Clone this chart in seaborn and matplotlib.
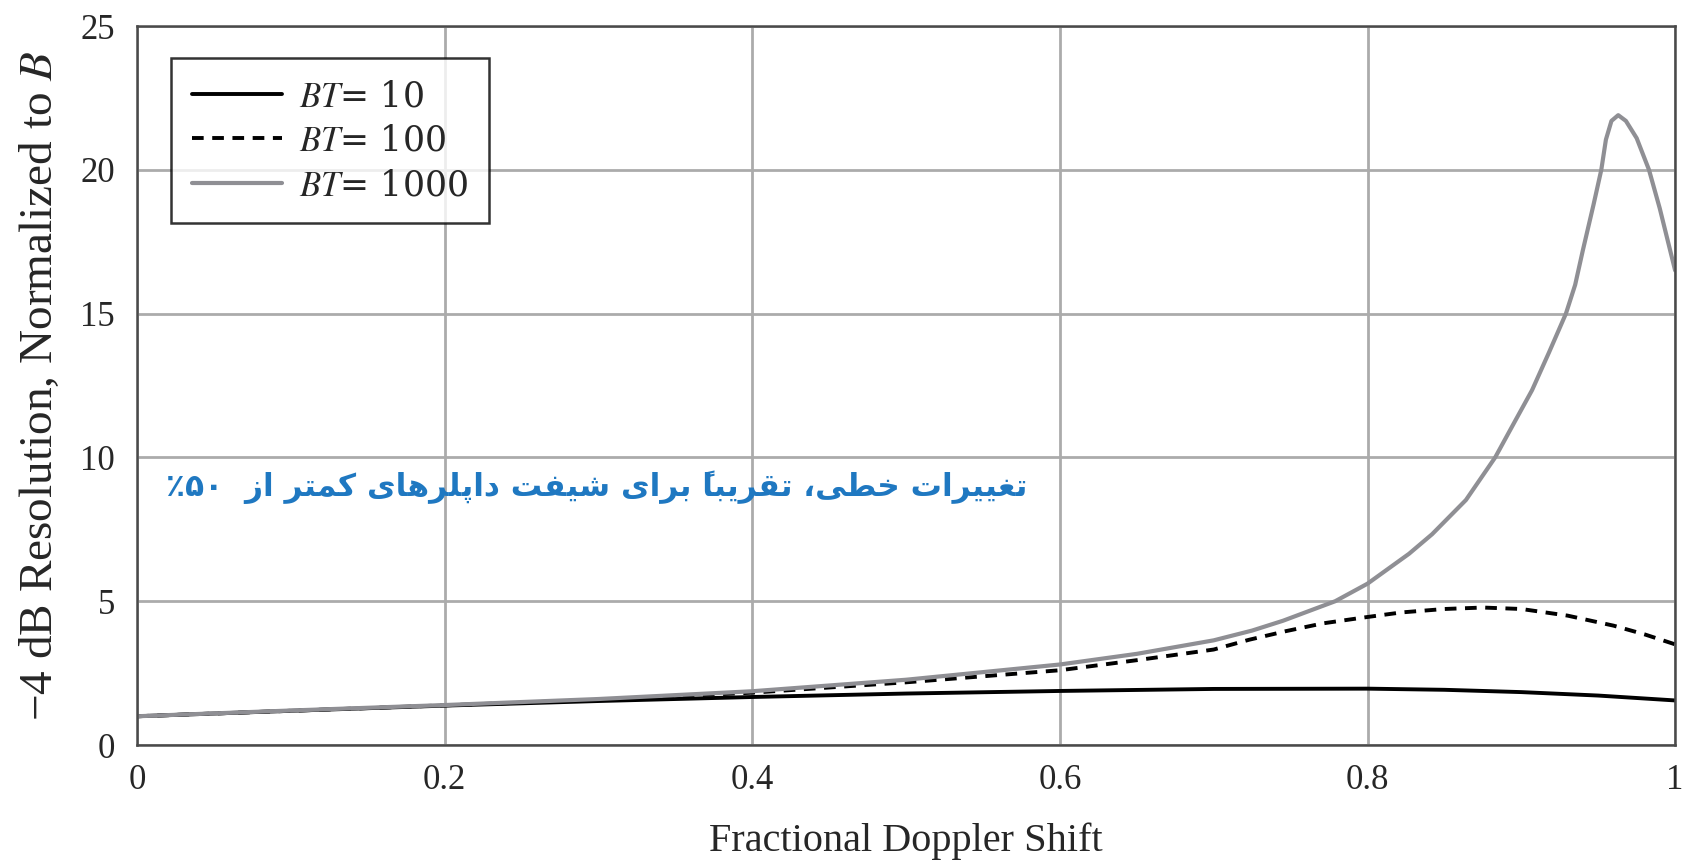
import numpy as np
import pandas as pd
import matplotlib
matplotlib.use("Agg")
import matplotlib.pyplot as plt
import seaborn as sns

# ---- data -------------------------------------------------------------
bt10_x = [0.0, 0.1, 0.2, 0.3, 0.4, 0.5, 0.6, 0.7, 0.8, 0.85, 0.9, 0.95, 1.0]
bt10_y = [1.0, 1.19, 1.37, 1.53, 1.67, 1.79, 1.88, 1.95, 1.96, 1.92, 1.84, 1.72, 1.55]

bt100_x = [0.0, 0.1, 0.2, 0.3, 0.4, 0.5, 0.6, 0.65, 0.7, 0.723, 0.747, 0.771,
           0.797, 0.822, 0.85, 0.875, 0.9, 0.93, 0.96, 0.98, 1.0]
bt100_y = [1.0, 1.19, 1.38, 1.57, 1.82, 2.18, 2.6, 2.95, 3.32, 3.66, 3.96, 4.23,
           4.43, 4.61, 4.73, 4.78, 4.73, 4.5, 4.15, 3.85, 3.5]

bt1000_x = [0.0, 0.1, 0.2, 0.3, 0.4, 0.5, 0.6, 0.65, 0.7, 0.725, 0.745, 0.76,
            0.779, 0.8, 0.827, 0.842, 0.864, 0.883, 0.896, 0.907, 0.918, 0.929,
            0.935, 0.94, 0.947, 0.952, 0.955, 0.9586, 0.963, 0.968, 0.975,
            0.983, 0.99, 1.0]
bt1000_y = [1.0, 1.2, 1.39, 1.6, 1.87, 2.27, 2.8, 3.17, 3.64, 3.98, 4.32, 4.62,
            5.0, 5.61, 6.65, 7.33, 8.52, 10.0, 11.27, 12.34, 13.65, 15.0,
            16.0, 17.2, 18.8, 20.0, 21.05, 21.7, 21.9, 21.7, 21.1,
            20.0, 18.66, 16.5]

series_labels = [r"$BT$= 10", r"$BT$= 100", r"$BT$= 1000"]
x_ticks = [0, 0.2, 0.4, 0.6, 0.8, 1.0]
x_tick_labels = ["0", "0.2", "0.4", "0.6", "0.8", "1"]
y_ticks = [0, 5, 10, 15, 20, 25]
y_tick_labels = ["0", "5", "10", "15", "20", "25"]

note_fa = "تغییرات خطی، تقریباً برای شیفت داپلرهای کمتر از  ۵۰٪"

# ---- minimal Persian shaping (matplotlib draws glyphs left to right) -----
FORMS = {  # isolated, final, initial, medial
    "ا": ("\uFE8D", "\uFE8E", None, None),
    "ب": ("\uFE8F", "\uFE90", "\uFE91", "\uFE92"),
    "ت": ("\uFE95", "\uFE96", "\uFE97", "\uFE98"),
    "خ": ("\uFEA5", "\uFEA6", "\uFEA7", "\uFEA8"),
    "د": ("\uFEA9", "\uFEAA", None, None),
    "ر": ("\uFEAD", "\uFEAE", None, None),
    "ز": ("\uFEAF", "\uFEB0", None, None),
    "ش": ("\uFEB5", "\uFEB6", "\uFEB7", "\uFEB8"),
    "ط": ("\uFEC1", "\uFEC2", "\uFEC3", "\uFEC4"),
    "غ": ("\uFECD", "\uFECE", "\uFECF", "\uFED0"),
    "ف": ("\uFED1", "\uFED2", "\uFED3", "\uFED4"),
    "ق": ("\uFED5", "\uFED6", "\uFED7", "\uFED8"),
    "ل": ("\uFEDD", "\uFEDE", "\uFEDF", "\uFEE0"),
    "م": ("\uFEE1", "\uFEE2", "\uFEE3", "\uFEE4"),
    "ه": ("\uFEE9", "\uFEEA", "\uFEEB", "\uFEEC"),
    "پ": ("\uFB56", "\uFB57", "\uFB58", "\uFB59"),
    "ک": ("\uFB8E", "\uFB8F", "\uFB90", "\uFB91"),
    "ی": ("\uFBFC", "\uFBFD", "\uFBFE", "\uFBFF"),
}
MARKS = {"\u064B"}


def shape_rtl(text):
    chars = list(text)
    n = len(chars)

    def neighbour(i, step):
        j = i + step
        while 0 <= j < n and chars[j] in MARKS:
            j += step
        return chars[j] if 0 <= j < n else None

    out = []
    for i, c in enumerate(chars):
        if c not in FORMS:
            out.append(c)
            continue
        prev = neighbour(i, -1)
        nxt = neighbour(i, 1)
        join_prev = prev in FORMS and FORMS[prev][2] is not None
        join_next = FORMS[c][2] is not None and nxt in FORMS
        iso, fin, ini, med = FORMS[c]
        if join_prev and join_next:
            out.append(med)
        elif join_prev:
            out.append(fin)
        elif join_next:
            out.append(ini)
        else:
            out.append(iso)
    # visual order: reverse, but keep digit runs left-to-right
    rev = out[::-1]
    result, run = [], []
    for ch in rev:
        if "\u06F0" <= ch <= "\u06F9":
            run.append(ch)
        else:
            result.extend(run[::-1])
            run = []
            result.append(ch)
    result.extend(run[::-1])
    return "".join(result)


# ---- figure -----------------------------------------------------------
sns.set_style("white")
plt.rcParams["font.family"] = ["Liberation Serif", "DejaVu Serif"]
plt.rcParams["mathtext.fontset"] = "stix"

fig = plt.figure(figsize=(16.9, 8.61), dpi=100)
ax = fig.add_axes([0.0811, 0.1347, 0.9101, 0.8351])

grid_c = "#ababab"
ax.set_axisbelow(True)
ax.grid(True, color=grid_c, linewidth=2.0)

sns.lineplot(x=bt10_x, y=bt10_y, ax=ax, color="black", linewidth=2.8,
             label=series_labels[0], sort=False)
sns.lineplot(x=bt100_x, y=bt100_y, ax=ax, color="black", linewidth=2.8,
             label=series_labels[1], sort=False)
ax.lines[-1].set_dashes((3.0, 2.2))
sns.lineplot(x=bt1000_x, y=bt1000_y, ax=ax, color="#8f8f94", linewidth=3.0,
             label=series_labels[2], sort=False)
ax.lines[-1].set_solid_joinstyle("round")

ax.set_xlim(0, 1)
ax.set_ylim(0, 25)
ax.set_xticks(x_ticks)
ax.set_xticklabels(x_tick_labels)
ax.set_yticks(y_ticks)
ax.set_yticklabels(y_tick_labels)
ax.tick_params(axis="both", length=0, labelsize=25)
ax.tick_params(axis="x", pad=14)
ax.tick_params(axis="y", pad=16)

for sp in ax.spines.values():
    sp.set_visible(True)
    sp.set_color("#4a4a4a")
    sp.set_linewidth(1.8)

ax.set_xlabel("Fractional Doppler Shift", fontsize=29)
ax.xaxis.set_label_coords(0.5, -0.108)
ax.set_ylabel("\u22124 dB Resolution, Normalized to $B$", fontsize=34)
ax.yaxis.set_label_coords(-0.049, 0.5)

leg = ax.legend(loc="upper left", bbox_to_anchor=(0.022, 0.955),
                prop={"family": "DejaVu Serif", "size": 25},
                frameon=True, fancybox=False, edgecolor="black",
                handlelength=2.6, handletextpad=0.5, borderpad=0.6,
                labelspacing=0.3, borderaxespad=0)
leg.get_frame().set_linewidth(1.8)

ax.text(0.579, 8.95, shape_rtl(note_fa), ha="right", va="center",
        fontsize=22.5, fontweight="bold", color="#1f78c1",
        family=["DejaVu Sans"])

fig.savefig("out.png", dpi=100)
